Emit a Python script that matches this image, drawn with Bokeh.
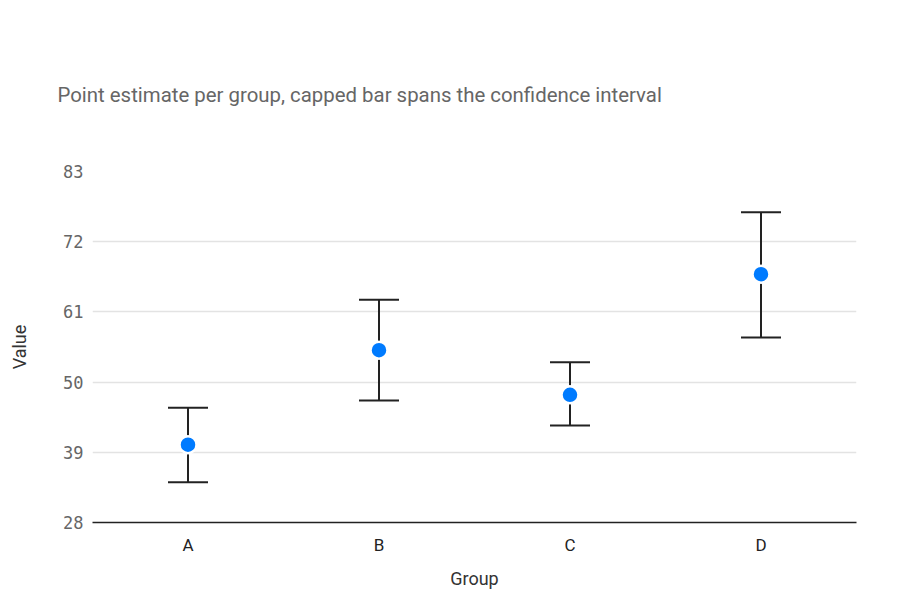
from bokeh.plotting import figure
from bokeh.models import ColumnDataSource, Whisker, TeeHead, FixedTicker
from bokeh.embed import file_html
from bokeh.resources import INLINE

groups = ["A", "B", "C", "D"]
estimate = [40.2, 55.0, 48.0, 66.9]
lower = [34.3, 47.1, 43.2, 57.0]
upper = [46.0, 62.9, 53.1, 76.6]
y_ticks = [28, 39, 50, 61, 72, 83]

src = ColumnDataSource(data=dict(group=groups, est=estimate, lo=lower, hi=upper))

p = figure(x_range=groups, y_range=(28, 83), width=884, height=594,
           output_backend="svg", toolbar_location=None,
           min_border_left=92, min_border_right=28, min_border_bottom=72,
           min_border_top=171)

p.title.text = "Point estimate per group, capped bar spans the confidence interval"
p.title.text_font = "Roboto"
p.title.text_font_size = "20.4px"
p.title.text_font_style = "normal"
p.title.text_color = "#666666"
p.title.offset = -35
p.title.standoff = 129

p.outline_line_color = None
p.background_fill_color = "white"
p.border_fill_color = "white"

p.xgrid.grid_line_color = None
p.ygrid.grid_line_color = "#e3e3e3"
p.ygrid.grid_line_width = 1.3

p.yaxis.ticker = FixedTicker(ticks=y_ticks)
p.yaxis.axis_line_color = None
p.yaxis.major_tick_line_color = None
p.yaxis.minor_tick_line_color = None
p.yaxis.major_label_text_font = "DejaVu Sans Mono"
p.yaxis.major_label_text_font_size = "17px"
p.yaxis.major_label_text_color = "#666666"
p.yaxis.major_label_standoff = 3
p.yaxis.axis_label = "Value"
p.yaxis.axis_label_text_font = "Roboto"
p.yaxis.axis_label_text_font_size = "18px"
p.yaxis.axis_label_text_font_style = "normal"
p.yaxis.axis_label_text_color = "#333333"
p.yaxis.axis_label_standoff = 30

p.xaxis.axis_line_color = "#222222"
p.xaxis.axis_line_width = 1.5
p.xaxis.major_tick_line_color = None
p.xaxis.minor_tick_line_color = None
p.xaxis.major_label_text_font = "Roboto"
p.xaxis.major_label_text_font_size = "17px"
p.xaxis.major_label_text_color = "#222222"
p.xaxis.major_label_standoff = 6
p.xaxis.axis_label = "Group"
p.xaxis.axis_label_text_font = "Roboto"
p.xaxis.axis_label_text_font_size = "18px"
p.xaxis.axis_label_text_font_style = "normal"
p.xaxis.axis_label_text_color = "#333333"
p.xaxis.axis_label_standoff = 10

whisker = Whisker(base="group", lower="lo", upper="hi", source=src,
                  line_color="#222222", line_width=2,
                  upper_head=TeeHead(size=40, line_color="#222222", line_width=2),
                  lower_head=TeeHead(size=40, line_color="#222222", line_width=2))
p.add_layout(whisker)

p.scatter("group", "est", source=src, size=17, fill_color="#007bff",
          line_color="white", line_width=2.5)

open("out.html", "w").write(file_html(p, INLINE))
